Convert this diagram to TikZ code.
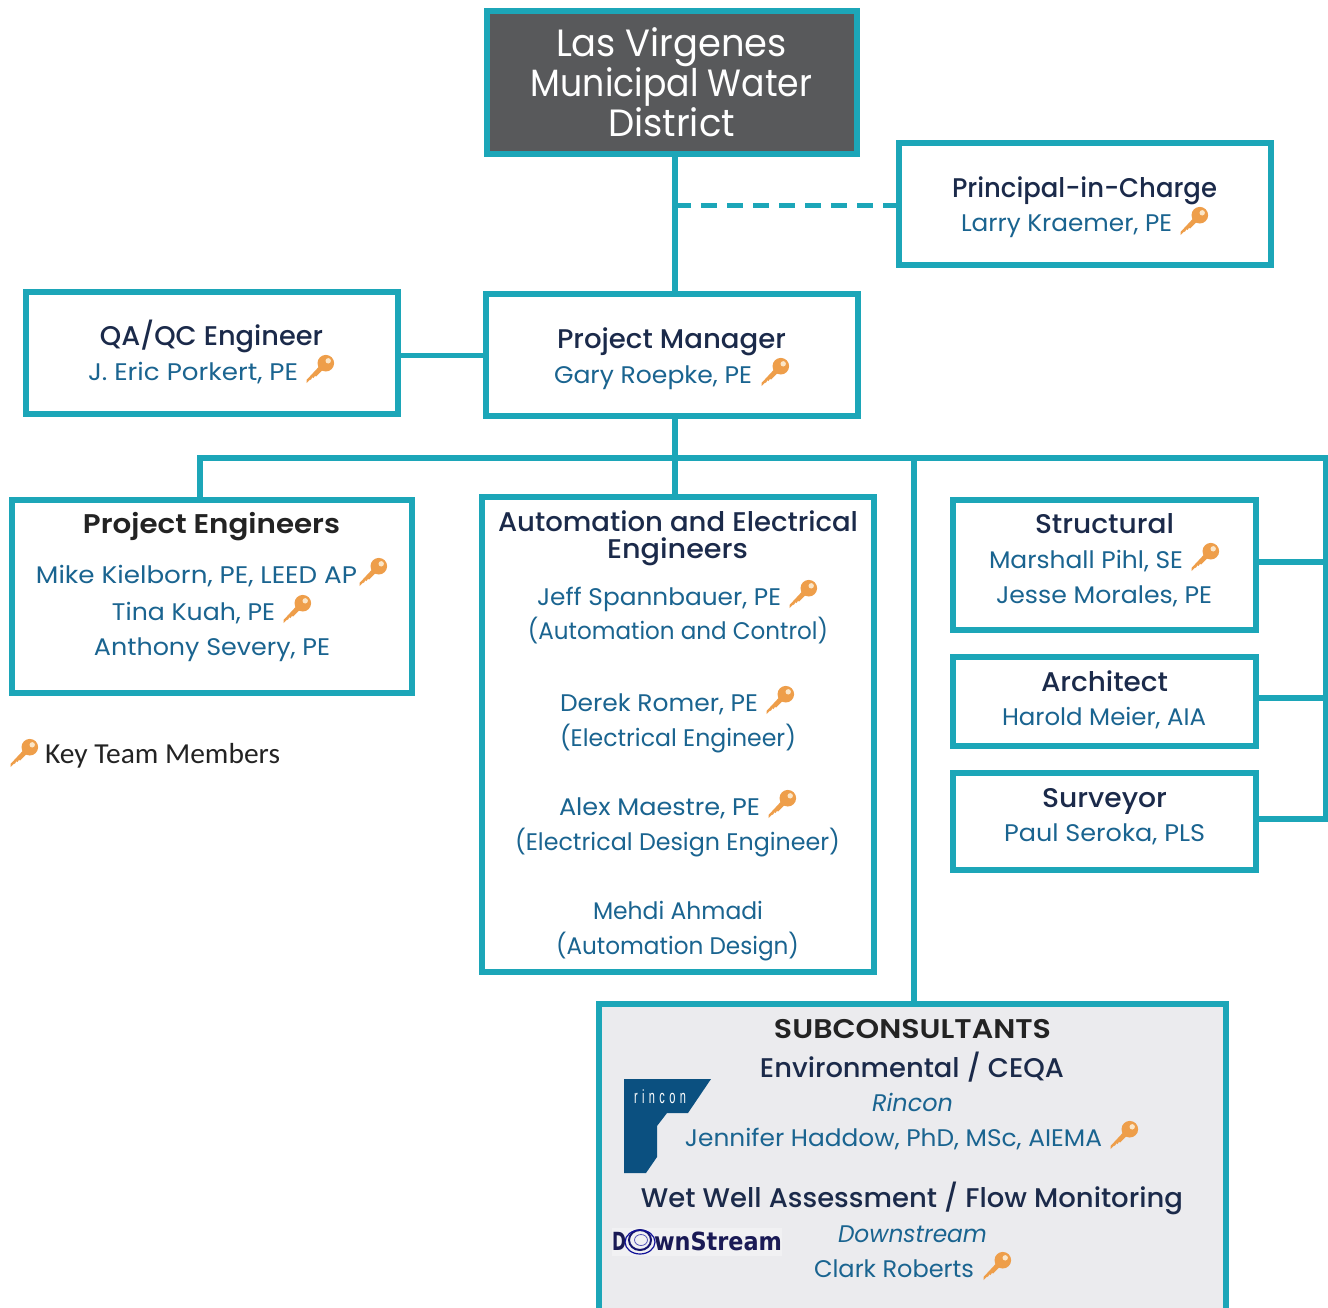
\documentclass[tikz,border=0pt]{standalone}
\usepackage{fontspec}
\setmainfont{Poppins}
\newfontfamily\pmed{Poppins Medium}
\newfontfamily\psem{Poppins SemiBold}
\newfontfamily\carl{Carlito}
\newfontfamily\lsans[LetterSpace=40]{Liberation Sans}
\newfontfamily\dsf{DejaVu Sans}
\definecolor{teal1}{HTML}{1CA6B8}
\definecolor{navy1}{HTML}{1B2A4A}
\definecolor{blue1}{HTML}{1A6490}
\definecolor{dark1}{HTML}{232323}
\definecolor{gray1}{HTML}{58595B}
\definecolor{sub1}{HTML}{EBEBEE}
\definecolor{key1}{HTML}{EE9E4A}
\definecolor{key2}{HTML}{FBE6C8}
\definecolor{rin1}{HTML}{0B5080}
\definecolor{ds1}{HTML}{1A1A55}
\tikzset{
 x=1pt,y=-1pt,
 boxn/.style={draw=teal1,line width=5.5pt,inner sep=0pt,fill=white},
 conn/.style={draw=teal1,line width=5.5pt},
 dashconn/.style={draw=teal1,line width=5pt,dash pattern=on 16pt off 10pt},
 tx/.style={inner sep=0pt,anchor=base},
 keyicon/.pic={
  \fill[key1] (5.8,-6.8) circle (8.3);
  \fill[key1] (0,-4.5) -- (3.5,-1) -- (-4,6.5) -- (-5,5.8) -- (-6.5,8) -- (-7.5,7.2) -- (-9,9.5) -- (-10.5,10) -- (-13.5,13) -- (-13.5,10) -- cycle;
  \fill[key2] (8.2,-9.2) circle (2.7);
 }
}
% name, style, size, x1, x2, baseline, text
\newcommand{\tl}[7]{\node[tx,#2] (#1) at ({(#4+#5)/2},#6) {\resizebox{\the\numexpr#5-#4\relax pt}{\height}{\fontsize{#3}{#3}\selectfont #7}};}
\newcommand{\bx}[6][]{\node[boxn,#1,minimum width=\the\numexpr#4-#3\relax pt,minimum height=\the\numexpr#6-#5\relax pt] (#2) at ({(#3+#4)/2},{(#5+#6)/2}) {};}
\begin{document}
\begin{tikzpicture}
\useasboundingbox (0,0) rectangle (1328,1307);
% boxes
\bx[fill=gray1]{top}{487}{857}{11}{154}
\bx{pic}{899}{1271}{143}{265}
\bx{pm}{486}{858}{294}{416}
\bx{qa}{26}{398}{292}{414}
\bx{pe}{12}{412}{500}{693}
\bx{ae}{482}{874}{497}{972}
\bx{st}{953}{1256}{500}{630}
\bx{ar}{953}{1256}{657}{746}
\bx{su}{953}{1256}{773}{870}
\bx[fill=sub1]{sb}{599}{1226}{1004}{1340}
% junction coordinates
\coordinate (tr) at (675,458);
\coordinate (lf) at (200,458);
\coordinate (mid) at (914,458);
\coordinate (bus) at (1326,458);
\coordinate (s1) at (1326,562);
\coordinate (s2) at (1326,698);
\coordinate (s3) at (1326,819);
\coordinate (dl) at (0,205.5);
\coordinate (ql) at (0,355.5);
% connectors
\draw[conn] (top.south -| tr) -- (pm.north -| tr);
\draw[dashconn] (tr |- dl) -- (pic.west |- dl);
\draw[conn] (qa.east |- ql) -- (pm.west |- ql);
\draw[conn] (pm.south -| tr) -- (ae.north -| tr);
\draw[conn] (pe.north -| lf) -- (lf) -- (bus) -- (s3) -- (su.east |- s3);
\draw[conn] (st.east |- s1) -- (s1);
\draw[conn] (ar.east |- s2) -- (s2);
\draw[conn] (mid) -- (sb.north -| mid);
% top
\tl{t1}{white}{38}{556}{787}{56}{Las Virgenes}
\tl{t2}{white}{38}{531}{812}{96}{Municipal Water}
\tl{t3}{white}{38}{608}{735}{136}{District}
% principal
\tl{p1}{navy1}{27}{952}{1217}{197}{\pmed Principal-in-Charge}
\tl{p2}{blue1}{24}{961}{1172}{231}{Larry Kraemer, PE}
\pic at (1194,222) {keyicon};
% qa
\tl{q1}{navy1}{27}{100}{323}{345}{\pmed QA/QC Engineer}
\tl{q2}{blue1}{24}{88}{298}{380}{J. Eric Porkert, PE}
\pic at (320,370) {keyicon};
% pm
\tl{m1}{navy1}{27}{557}{786}{348}{\pmed Project Manager}
\tl{m2}{blue1}{24}{554}{752}{383}{Gary Roepke, PE}
\pic at (775,373) {keyicon};
% project engineers
\tl{e0}{dark1}{27}{83}{340}{533}{\psem Project Engineers}
\tl{e1}{blue1}{24}{36}{357}{583}{Mike Kielborn, PE, LEED AP}
\pic at (373,573) {keyicon};
\tl{e2}{blue1}{24}{112}{275}{620}{Tina Kuah, PE}
\pic at (297,610) {keyicon};
\tl{e3}{blue1}{24}{94}{330}{655}{Anthony Severy, PE}
% automation
\tl{a0}{navy1}{27}{498}{858}{531}{\pmed Automation and Electrical}
\tl{a1}{navy1}{27}{607}{748}{558}{\pmed Engineers}
\tl{a2}{blue1}{24}{537}{781}{605}{Jeff Spannbauer, PE}
\pic at (803,595) {keyicon};
\tl{a3}{blue1}{24}{528}{828}{639}{(Automation and Control)}
\tl{a4}{blue1}{24}{560}{758}{711}{Derek Romer, PE}
\pic at (780,701) {keyicon};
\tl{a5}{blue1}{24}{560}{796}{746}{(Electrical Engineer)}
\tl{a6}{blue1}{24}{559}{760}{815}{Alex Maestre, PE}
\pic at (782,805) {keyicon};
\tl{a7}{blue1}{24}{515}{840}{850}{(Electrical Design Engineer)}
\tl{a8}{blue1}{24}{593}{763}{919}{Mehdi Ahmadi}
\tl{a9}{blue1}{24}{556}{799}{954}{(Automation Design)}
% right boxes
\tl{s0}{navy1}{27}{1035}{1174}{533}{\pmed Structural}
\tl{s4}{blue1}{24}{989}{1183}{568}{Marshall Pihl, SE}
\pic at (1205,558) {keyicon};
\tl{s5}{blue1}{24}{996}{1212}{603}{Jesse Morales, PE}
\tl{r0}{navy1}{27}{1041}{1168}{691}{\pmed Architect}
\tl{r1}{blue1}{24}{1002}{1206}{725}{Harold Meier, AIA}
\tl{u0}{navy1}{27}{1042}{1167}{807}{\pmed Surveyor}
\tl{u1}{blue1}{24}{1004}{1205}{841}{Paul Seroka, PLS}
% legend
\pic at (24,754) {keyicon};
\tl{lg}{dark1}{29}{45}{280}{763}{\carl Key Team Members}
% subconsultants
\tl{b0}{dark1}{27}{774}{1051}{1038}{\psem SUBCONSULTANTS}
\tl{b1}{navy1}{27}{760}{1064}{1077}{\pmed Environmental / CEQA}
\tl{b2}{blue1}{24}{872}{953}{1111}{\itshape Rincon}
\tl{b3}{blue1}{24}{685}{1102}{1146}{Jennifer Haddow, PhD, MSc, AIEMA}
\pic at (1124,1136) {keyicon};
\tl{b4}{navy1}{27}{641}{1183}{1207}{\pmed Wet Well Assessment / Flow Monitoring}
\tl{b5}{blue1}{24}{838}{987}{1242}{\itshape Downstream}
\tl{b6}{blue1}{24}{814}{974}{1277}{Clark Roberts}
\pic at (997,1267) {keyicon};
% rincon logo
\fill[rin1] (624,1079) -- (711,1079) -- (688,1113) -- (667,1113) -- (657,1126) -- (657,1157) -- (646,1173) -- (624,1173) -- cycle;
\tl{rl}{white}{19}{634}{686}{1103}{\lsans rincon}
% downstream logo
\fill[white,opacity=.3] (612,1228) rectangle (782,1256);
\tl{d1}{ds1}{25}{612}{626}{1250}{\dsf\bfseries D}
\tl{d2}{ds1}{25}{654}{782}{1250}{\dsf\bfseries wnStream}
\draw[ds1!85!blue,line width=2pt] (640,1240) ellipse (11 and 10);
\draw[ds1!60!blue,line width=1.2pt] (640,1242) ellipse (15 and 12);
\draw[ds1!60!blue!70,line width=.8pt] (641,1240) ellipse (6.5 and 5.5);
\end{tikzpicture}
\end{document}
